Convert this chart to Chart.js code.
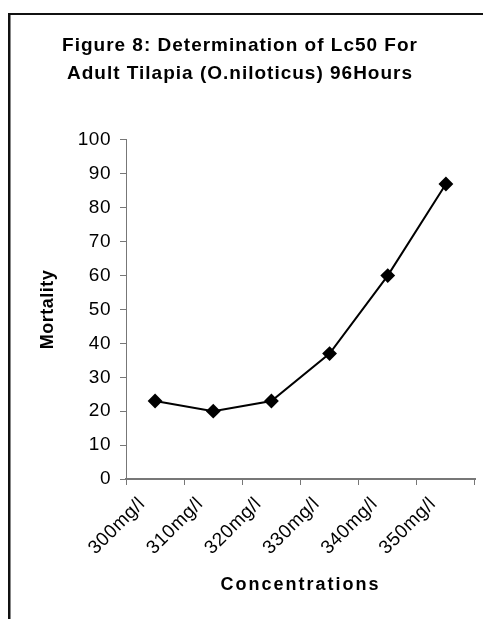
<!DOCTYPE html>
<html>
<head>
<meta charset="utf-8">
<script src="https://cdn.jsdelivr.net/npm/chart.js@4"></script>
<style>
html,body{margin:0;padding:0;background:#fff;}
canvas{display:block;}
</style>
</head>
<body>
<canvas id="c" width="483" height="619"></canvas>
<script>
const categories = ["300mg/l", "310mg/l", "320mg/l", "330mg/l", "340mg/l", "350mg/l"];
const mortality = [23, 20, 23, 37, 60, 87];
const yTicks = [0, 10, 20, 30, 40, 50, 60, 70, 80, 90, 100];
const titleLines = ["Figure 8: Determination of Lc50 For", "Adult Tilapia (O.niloticus) 96Hours"];
const xTitle = "Concentrations";
const yTitle = "Mortality";

const FONT = "'Liberation Sans', Arial, sans-serif";

function wrapSpacing(obj, name, spacing) {
  if (!obj || obj['_w_' + name]) return;
  const orig = obj[name];
  obj[name] = function () {
    const ctx = this.ctx || this.chart.ctx;
    ctx.save();
    try { ctx.letterSpacing = spacing; } catch (e) {}
    const r = orig.apply(this, arguments);
    ctx.restore();
    return r;
  };
  obj['_w_' + name] = true;
}

const spacingPlugin = {
  id: 'spacing',
  beforeDraw(chart) {
    wrapSpacing(chart.titleBlock, 'draw', '1px');
    const x = chart.scales.x, y = chart.scales.y;
    wrapSpacing(x, 'drawTitle', '2px');
    wrapSpacing(y, 'drawTitle', '0.5px');
    wrapSpacing(x, 'drawLabels', '0.5px');
    wrapSpacing(y, 'drawLabels', '0.5px');
  }
};

const framePlugin = {
  id: 'frame',
  afterDraw(chart) {
    const ctx = chart.ctx;
    ctx.save();
    ctx.fillStyle = '#111';
    ctx.fillRect(8, 13, 2.5, 619 - 13);
    ctx.fillRect(8, 13, 483 - 8, 2);
    ctx.restore();
  }
};

new Chart(document.getElementById('c'), {
  type: 'line',
  data: {
    labels: categories,
    datasets: [{
      data: mortality,
      borderColor: '#000',
      backgroundColor: '#000',
      borderWidth: 2,
      pointStyle: 'rectRot',
      pointRadius: 6,
      pointHoverRadius: 6,
      pointBackgroundColor: '#000',
      pointBorderColor: '#000',
      tension: 0,
      fill: false
    }]
  },
  options: {
    responsive: false,
    animation: false,
    events: [],
    layout: { padding: { left: 0, right: 3, top: 0, bottom: 0 } },
    plugins: {
      legend: { display: false },
      tooltip: { enabled: false },
      title: {
        display: true,
        text: titleLines,
        color: '#000',
        font: { family: FONT, size: 19, weight: 'bold', lineHeight: 1.47 },
        padding: { top: 31.5, bottom: 52.6 }
      }
    },
    scales: {
      x: {
        type: 'category',
        offset: true,
        grid: { display: true, drawOnChartArea: false, drawTicks: true, tickLength: 6, offset: true, color: '#777', lineWidth: 1 },
        border: { display: true, color: '#777', width: 2 },
        ticks: {
          color: '#000',
          font: { family: FONT, size: 19 },
          maxRotation: 45, minRotation: 45,
          autoSkip: false,
          padding: 8,
          labelOffset: -13
        },
        title: {
          display: true, text: xTitle, color: '#000',
          font: { family: FONT, size: 18, weight: 'bold', lineHeight: 1.2 },
          padding: { top: 0, bottom: 23 }
        },
        afterFit(scale) { scale.height = 140; }
      },
      y: {
        min: 0, max: 100,
        afterBuildTicks(scale) { scale.ticks = yTicks.map(v => ({ value: v })); },
        grid: { display: true, drawOnChartArea: false, drawTicks: true, tickLength: 6, color: '#777', lineWidth: 1 },
        border: { display: true, color: '#777', width: 1 },
        ticks: {
          color: '#000',
          font: { family: FONT, size: 19 },
          padding: 9
        },
        title: {
          display: true, text: yTitle, color: '#000',
          font: { family: FONT, size: 18, weight: 'bold', lineHeight: 1.2 },
          padding: { top: 37, bottom: 0 }
        },
        afterFit(scale) { scale.width = 126; }
      }
    }
  },
  plugins: [spacingPlugin, framePlugin]
});
</script>
</body>
</html>
